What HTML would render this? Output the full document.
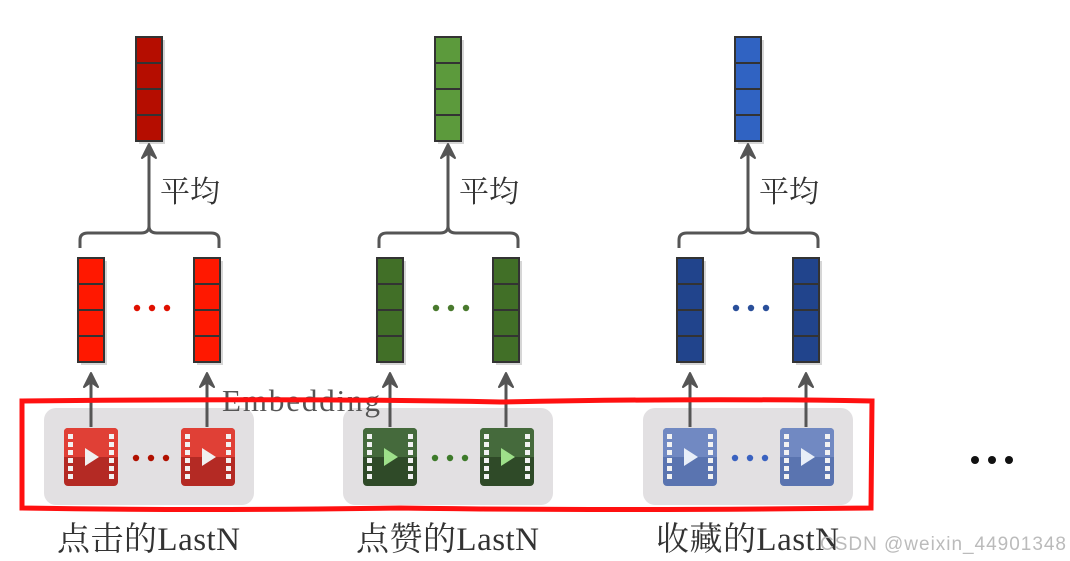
<!DOCTYPE html>
<html><head><meta charset="utf-8"><style>
html,body{margin:0;padding:0;background:#fff;}
svg{display:block}
.zh{font-family:"Liberation Serif","Noto Serif CJK SC",serif;font-size:30px;fill:#333}
.lb{font-family:"Liberation Serif","Noto Serif CJK SC",serif;font-size:33px;fill:#333}
</style></head><body>
<svg width="1070" height="561" viewBox="0 0 1070 561" xmlns="http://www.w3.org/2000/svg">
<defs>
<g id="vec">
<rect x="3" y="3" width="26" height="104" fill="#bbb" opacity="0.6"/>
<rect x="0" y="0" width="26" height="104" fill="currentColor" stroke="#333" stroke-width="2"/>
<line x1="0" y1="26" x2="26" y2="26" stroke="#333" stroke-width="2"/>
<line x1="0" y1="52" x2="26" y2="52" stroke="#333" stroke-width="2"/>
<line x1="0" y1="78" x2="26" y2="78" stroke="#333" stroke-width="2"/>
</g>
<g id="holes" fill="#f2f2f2">
<rect x="4" y="6" width="5" height="5"/><rect x="4" y="14" width="5" height="5"/><rect x="4" y="22" width="5" height="5"/><rect x="4" y="30" width="5" height="5"/><rect x="4" y="38" width="5" height="5"/><rect x="4" y="46" width="5" height="5"/>
<rect x="45" y="6" width="5" height="5"/><rect x="45" y="14" width="5" height="5"/><rect x="45" y="22" width="5" height="5"/><rect x="45" y="30" width="5" height="5"/><rect x="45" y="38" width="5" height="5"/><rect x="45" y="46" width="5" height="5"/>
</g>
<g id="common">
<path d="M80,248 L80,240 Q80,233 88,233 L141,233 Q149,233 149,226 Q149,233 157,233 L211,233 Q219,233 219,240 L219,248" fill="none" stroke="#555" stroke-width="3"/>
<line x1="149" y1="226" x2="149" y2="150" stroke="#555" stroke-width="3"/>
<path d="M142,158 L149,144 L156,158 L149,153Z" fill="#555" stroke="#555" stroke-width="2" stroke-linejoin="round"/>
<line x1="91" y1="427" x2="91" y2="378" stroke="#555" stroke-width="3"/><path d="M84,387 L91,373 L98,387 L91,382Z" fill="#555" stroke="#555" stroke-width="2" stroke-linejoin="round"/>
<line x1="207" y1="427" x2="207" y2="378" stroke="#555" stroke-width="3"/><path d="M200,387 L207,373 L214,387 L207,382Z" fill="#555" stroke="#555" stroke-width="2" stroke-linejoin="round"/>
</g>
</defs>

<g>
<rect x="44" y="408" width="210" height="97" rx="12" fill="#e2e0e2"/>
<g color="#b50d00"><use href="#vec" x="136" y="37"/></g>
<g color="#ff1800"><use href="#vec" x="78" y="258"/><use href="#vec" x="194" y="258"/></g>
<circle cx="137" cy="308" r="3.2" fill="#e01000"/><circle cx="152" cy="308" r="3.2" fill="#e01000"/><circle cx="167" cy="308" r="3.2" fill="#e01000"/>
<use href="#common"/>
<text x="160" y="202" class="zh" textLength="60">平均</text>
<g transform="translate(64,428)"><rect width="54" height="58" rx="4" fill="#b42a24"/><path d="M0,29 V4 Q0,0 4,0 H50 Q54,0 54,4 V29Z" fill="#e04036"/><use href="#holes"/><path d="M21,20 L35,29 L21,38Z" fill="#f0f0f0"/></g>
<g transform="translate(181,428)"><rect width="54" height="58" rx="4" fill="#b42a24"/><path d="M0,29 V4 Q0,0 4,0 H50 Q54,0 54,4 V29Z" fill="#e04036"/><use href="#holes"/><path d="M21,20 L35,29 L21,38Z" fill="#f0f0f0"/></g>
<circle cx="136" cy="458" r="3.2" fill="#b01000"/><circle cx="151" cy="458" r="3.2" fill="#b01000"/><circle cx="166" cy="458" r="3.2" fill="#b01000"/>
<text x="57" y="550" class="lb" textLength="183">点击的LastN</text>
</g>

<g transform="translate(299,0)">
<rect x="44" y="408" width="210" height="97" rx="12" fill="#e2e0e2"/>
<g color="#5c9a3c"><use href="#vec" x="136" y="37"/></g>
<g color="#416f27"><use href="#vec" x="78" y="258"/><use href="#vec" x="194" y="258"/></g>
<circle cx="137" cy="308" r="3.2" fill="#4a7a2e"/><circle cx="152" cy="308" r="3.2" fill="#4a7a2e"/><circle cx="167" cy="308" r="3.2" fill="#4a7a2e"/>
<use href="#common"/>
<text x="160" y="202" class="zh" textLength="60">平均</text>
<g transform="translate(64,428)"><rect width="54" height="58" rx="4" fill="#2f4a28"/><path d="M0,29 V4 Q0,0 4,0 H50 Q54,0 54,4 V29Z" fill="#456a3c"/><use href="#holes"/><path d="M21,20 L35,29 L21,38Z" fill="#9ee08a"/></g>
<g transform="translate(181,428)"><rect width="54" height="58" rx="4" fill="#2f4a28"/><path d="M0,29 V4 Q0,0 4,0 H50 Q54,0 54,4 V29Z" fill="#456a3c"/><use href="#holes"/><path d="M21,20 L35,29 L21,38Z" fill="#9ee08a"/></g>
<circle cx="136" cy="458" r="3.2" fill="#3d7a2a"/><circle cx="151" cy="458" r="3.2" fill="#3d7a2a"/><circle cx="166" cy="458" r="3.2" fill="#3d7a2a"/>
<text x="57" y="550" class="lb" textLength="183">点赞的LastN</text>
</g>

<g transform="translate(599,0)">
<rect x="44" y="408" width="210" height="97" rx="12" fill="#e2e0e2"/>
<g color="#3063c2"><use href="#vec" x="136" y="37"/></g>
<g color="#21448c"><use href="#vec" x="78" y="258"/><use href="#vec" x="194" y="258"/></g>
<circle cx="137" cy="308" r="3.2" fill="#2a4f9a"/><circle cx="152" cy="308" r="3.2" fill="#2a4f9a"/><circle cx="167" cy="308" r="3.2" fill="#2a4f9a"/>
<use href="#common"/>
<text x="160" y="202" class="zh" textLength="60">平均</text>
<g transform="translate(64,428)"><rect width="54" height="58" rx="4" fill="#5a74b0"/><path d="M0,29 V4 Q0,0 4,0 H50 Q54,0 54,4 V29Z" fill="#7189c2"/><use href="#holes"/><path d="M21,20 L35,29 L21,38Z" fill="#e8eef8"/></g>
<g transform="translate(181,428)"><rect width="54" height="58" rx="4" fill="#5a74b0"/><path d="M0,29 V4 Q0,0 4,0 H50 Q54,0 54,4 V29Z" fill="#7189c2"/><use href="#holes"/><path d="M21,20 L35,29 L21,38Z" fill="#e8eef8"/></g>
<circle cx="136" cy="458" r="3.2" fill="#3a62c0"/><circle cx="151" cy="458" r="3.2" fill="#3a62c0"/><circle cx="166" cy="458" r="3.2" fill="#3a62c0"/>
<text x="57" y="550" class="lb" textLength="183">收藏的LastN</text>
</g>

<text x="222" y="411" font-family="Liberation Serif, serif" font-size="31" fill="#555" textLength="158">Embedding</text>

<circle cx="975" cy="460" r="4" fill="#111"/><circle cx="992" cy="460" r="4" fill="#111"/><circle cx="1009" cy="460" r="4" fill="#111"/>

<path d="M22,401 Q300,398 500,402 Q700,398 872,401 L871,508 Q600,511 400,508 Q200,511 22,508 Z" fill="none" stroke="#ff1010" stroke-width="5"/>

<text x="820" y="550" font-family="Liberation Sans, sans-serif" font-size="19" fill="#bbb" textLength="246">CSDN @weixin_44901348</text>
</svg>
</body></html>
